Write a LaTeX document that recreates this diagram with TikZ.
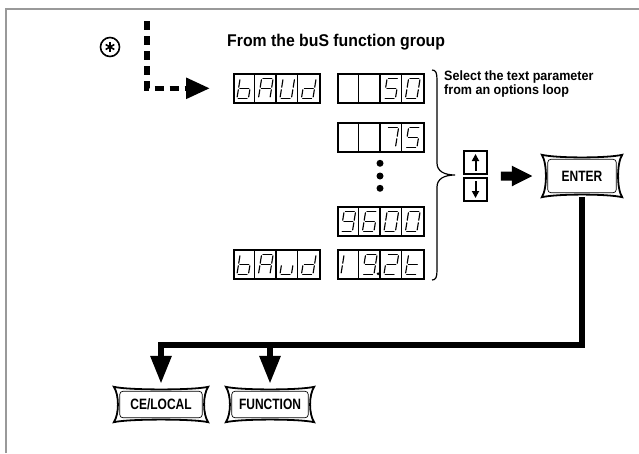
\documentclass[tikz,border=0pt]{standalone}
\usepackage{fontspec}
\setmainfont{Liberation Sans}
\newfontfamily\keyfnt{Liberation Sans}[FakeStretch=0.8]
\newfontfamily\txtfnt{Liberation Sans}[FakeStretch=0.93]
\usetikzlibrary{arrows.meta,calc}

\tikzset{
  frameline/.style={draw=black!40, line width=2.5pt},
  dispbox/.style={draw, line width=1.6pt, minimum width=86pt, minimum height=29pt, inner sep=0pt},
  cellline/.style={line width=1.2pt},
  seg/.style={line width=1.15pt, line cap=round},
  keycap/.style={inner sep=0pt, text depth=0pt, font=\keyfnt\bfseries\fontsize{15}{15}\selectfont},
  keyout/.style={line width=1.8pt, line join=miter},
  keyin/.style={line width=0.7pt},
  bigline/.style={line width=6pt, line join=miter},
  fatline/.style={line width=9pt},
  dashline/.style={line width=5.5pt, dash pattern=on 9pt off 6pt},
  udkey/.style={draw, line width=1.6pt, minimum size=23pt, inner sep=0pt},
  udarr/.style={line width=2pt},
  dotmark/.style={fill=black},
}

% seven segment pieces (cell-local coords, y downwards)
\newcommand\sg[4]{\draw[seg] ({#1+(25-#2)*0.16},#2) -- ({#3+(25-#4)*0.16},#4);}
\newcommand\SgA{\sg{5.3}{5.5}{14.2}{5.5}}
\newcommand\SgB{\sg{15.5}{6.8}{15.5}{14.2}}
\newcommand\SgC{\sg{15.5}{16.8}{15.5}{23.9}}
\newcommand\SgD{\sg{5.3}{25.2}{14.2}{25.2}}
\newcommand\SgE{\sg{4}{16.8}{4}{23.9}}
\newcommand\SgF{\sg{4}{6.8}{4}{14.2}}
\newcommand\SgG{\sg{5.3}{15.5}{14.2}{15.5}}
\newcommand\svb{\SgF\SgE\SgD\SgC\SgG}
\newcommand\svA{\SgA\SgB\SgC\SgE\SgF\SgG}
\newcommand\svU{\SgB\SgC\SgD\SgE\SgF}
\newcommand\svd{\SgB\SgC\SgD\SgE\SgG}
\newcommand\svu{\SgC\SgD\SgE}
\newcommand\svfive{\SgA\SgF\SgG\SgC\SgD}
\newcommand\svzero{\SgA\SgB\SgC\SgD\SgE\SgF}
\newcommand\svseven{\SgA\SgB\SgC}
\newcommand\svnine{\SgA\SgB\SgC\SgD\SgF\SgG}
\newcommand\svsix{\SgA\SgF\SgE\SgD\SgC\SgG}
\newcommand\svone{\SgE\SgF}
\newcommand\svtwo{\SgA\SgB\SgG\SgE\SgD}
\newcommand\svt{\SgF\SgE\SgD\SgG}
\newcommand\svdp{\fill (19.6,24.8) circle (1.5pt);}

% display: name, x, y (top left), four cells
\newcommand\disp[7]{%
  \node[dispbox, anchor=north west] (#1) at (#2,#3) {};
  \foreach \i in {1,2,3} \draw[cellline] ({#2+\i*21.5},#3) -- ++(0,29);
  \begin{scope}[shift={(#2,#3)}]#4\end{scope}
  \begin{scope}[shift={({#2+21.5},#3)}]#5\end{scope}
  \begin{scope}[shift={({#2+43},#3)}]#6\end{scope}
  \begin{scope}[shift={({#2+64.5},#3)}]#7\end{scope}
}

\newcommand\keyshape[1]{%
  \draw[keyout] (#1.north west)
    .. controls ([xshift=15pt,yshift=-3.5pt]#1.north west) and ([xshift=-15pt,yshift=-3.5pt]#1.north east) .. (#1.north east)
    .. controls ([xshift=-5.5pt,yshift=-8pt]#1.north east) and ([xshift=-5.5pt,yshift=8pt]#1.south east) .. (#1.south east)
    .. controls ([xshift=-15pt,yshift=3.5pt]#1.south east) and ([xshift=15pt,yshift=3.5pt]#1.south west) .. (#1.south west)
    .. controls ([xshift=5.5pt,yshift=8pt]#1.south west) and ([xshift=5.5pt,yshift=-8pt]#1.north west) .. cycle;
  \draw[keyin, rounded corners=3pt] ([xshift=6pt,yshift=-4.5pt]#1.north west) rectangle ([xshift=-6pt,yshift=4.5pt]#1.south east);
}

\begin{document}
\begin{tikzpicture}[x=1pt,y=-1pt]
\useasboundingbox (0,0) rectangle (639,453);
\fill[white] (0,0) rectangle (639,453);
\draw[frameline] (6,453) -- (6,9) -- (639,9);

% asterisk mark
\node[circle, draw, line width=1.6pt, minimum size=19pt, inner sep=0pt] (ast) at (110,47) {};
\foreach \a in {90,30,150}
  \draw[line width=1.6pt] ($(ast.center)+(\a:5pt)$) -- ($(ast.center)+(\a+180:5pt)$);

% title
\node[anchor=base west, inner sep=0pt, font=\txtfnt\bfseries\fontsize{17}{17}\selectfont] (title) at (227,46.5) {From the buS function group};

% displays
\disp{bd1}{233}{73}{\svb}{\svA}{\svU}{\svd}
\disp{v50}{337}{73}{}{}{\svfive}{\svzero}
\disp{v75}{337}{122}{}{}{\svseven}{\svfive}
\disp{v9600}{337}{206}{\svnine}{\svsix}{\svzero}{\svzero}
\disp{v192}{337}{249}{\svone}{\svnine\svdp}{\svtwo}{\svt}
\disp{bd2}{233}{249}{\svb}{\svA}{\svu}{\svd}

% ellipsis dots
\fill[dotmark] (380,163.3) circle (3.5pt);
\fill[dotmark] (380,176) circle (3.5pt);
\fill[dotmark] (380,188.3) circle (3.5pt);

% dashed arrow
\coordinate (dtop) at (147,21);
\draw[dashline, -{Triangle[width=20pt,length=24pt]}, shorten >=23pt] (dtop) |- (bd1.west);

% brace
\draw[line width=1.2pt] (432,70) .. controls (436,70) and (437,73) .. (437,80) -- (437,163)
  .. controls (437,171) and (444,175) .. (455,175)
  .. controls (444,175) and (437,179) .. (437,187) -- (437,270)
  .. controls (437,277) and (436,280) .. (432,280);

% side text
\node[anchor=north west, align=left, inner sep=0pt, font=\txtfnt\bfseries\fontsize{13.5}{14}\selectfont] (sel) at (444,71) {Select the text parameter\\from an options loop};

% up / down keys
\node[udkey] (up) at (475.5,162.5) {};
\node[udkey] (dn) at (475.5,189.5) {};
\draw[udarr, -{Triangle[width=7pt,length=7pt]}] ([yshift=-8.5pt]up.center) -- ([yshift=8.5pt]up.center);
\draw[udarr, -{Triangle[width=7pt,length=7pt]}] ([yshift=8.5pt]dn.center) -- ([yshift=-8.5pt]dn.center);

% keys
\node[keycap, minimum width=80pt, minimum height=42pt] (enter) at (582,176) {ENTER};
\node[keycap, minimum width=94pt, minimum height=35pt] (cel) at (161,404.5) {CE/LOCAL};
\node[keycap, minimum width=88pt, minimum height=35pt] (fun) at (270,404.5) {FUNCTION};
\keyshape{enter}
\keyshape{cel}
\keyshape{fun}

% fat arrow to ENTER
\coordinate (udr) at ($(up.south east)!0.5!(dn.north east)$);
\draw[fatline, -{Triangle[width=19pt,length=21pt]}, shorten <=13pt, shorten >=9pt] (udr) -- (enter.west);

% output lines
\coordinate (j1) at (161,345);
\coordinate (j2) at (270,345);
\draw[bigline, -{Triangle[width=20pt,length=28pt]}, shorten >=3pt] (enter.south) |- (j1) -- (cel.north);
\draw[bigline, -{Triangle[width=20pt,length=28pt]}, shorten >=3pt] (j2) -- (fun.north);
\end{tikzpicture}
\end{document}
